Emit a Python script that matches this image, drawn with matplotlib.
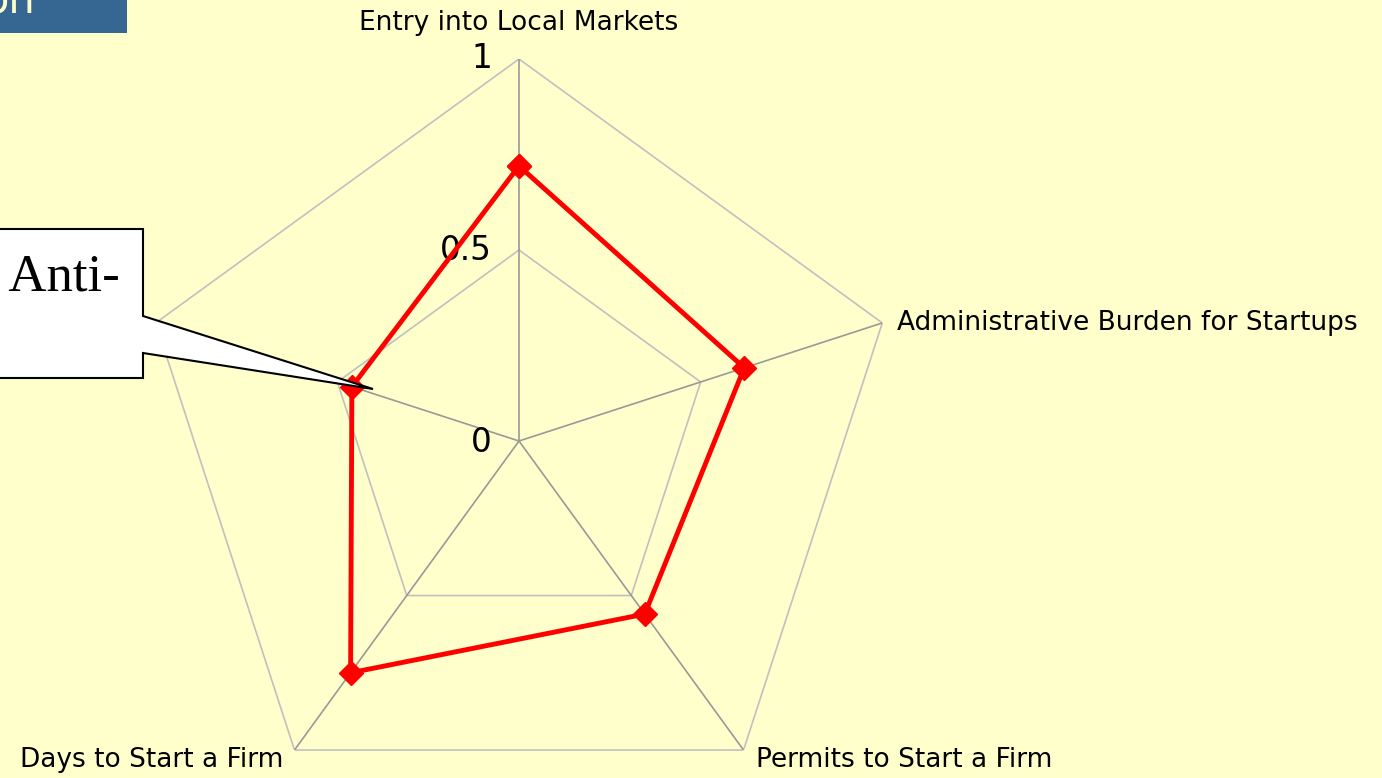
import numpy as np
import matplotlib; matplotlib.use("Agg")
import matplotlib.pyplot as plt
from matplotlib.patches import Polygon, Rectangle

# radar data (scale 0..1)
categories = ["Entry into Local Markets", "Administrative Burden for Startups",
              "Permits to Start a Firm", "Days to Start a Firm", ""]
values = [0.72, 0.62, 0.56, 0.75, 0.46]
ring_levels = [0.5, 1.0]
tick_labels = ["0", "0.5", "1"]
tick_values = [0.0, 0.5, 1.0]

BG = "#FFFFCC"
W, H = 1382, 778

fig = plt.figure(figsize=(W/100, H/100), dpi=100, facecolor=BG)

# polar axes placed so the centre sits at (519, 441) px with radius 382 px
cx, cy, R = 519, 441, 382
ax = fig.add_axes([(cx-R)/W, (H-cy-R)/H, 2*R/W, 2*R/H], projection="polar")
ax.set_theta_offset(np.pi/2); ax.set_theta_direction(-1)
ax.set_ylim(0, 1)
ax.set_facecolor("none")
ax.axis("off")

n = len(categories)
theta = np.arange(n) * 2*np.pi/n
tc = np.append(theta, theta[0])

for lev in ring_levels:
    ax.plot(tc, [lev]*(n+1), color="#C0C0C0", lw=1.2, zorder=1)
for t in theta:
    ax.plot([t, t], [0, 1], color="#999999", lw=1.2, zorder=2)

for v, lab in zip(tick_values, tick_labels):
    ax.annotate(lab, xy=(0, v), xytext=(-27, -2 if v == 0 else 0), textcoords="offset pixels",
                ha="right", va="center", fontsize=23.5, color="black", zorder=3)

vc = values + values[:1]
ax.plot(tc, vc, color="#FF0000", lw=3.5, marker="D", ms=12.5, mec="#FF0000", zorder=5, clip_on=False)

# category labels around the outer ring
offsets = [((0, 36), "center"), ((15, 0), "left"), ((12, -10), "left"), ((-11, -10), "right"), ((-15, 2), "right")]
for t, lab, (off, ha) in zip(theta, categories, offsets):
    if lab:
        ax.annotate(lab, xy=(t, 1), xytext=off, textcoords="offset pixels",
                    ha=ha, va="center", fontsize=19, color="black", annotation_clip=False)

# overlay in pixel coords for the slide furniture (callout + title strip)
ov = fig.add_axes([0, 0, 1, 1], zorder=10)
ov.set_xlim(0, W); ov.set_ylim(H, 0); ov.axis("off"); ov.patch.set_alpha(0)
ov.add_patch(Rectangle((-5, -5), 132, 38, facecolor="#366792", edgecolor="none"))
ov.text(36, 13, "on", ha="right", va="baseline", fontsize=30, color="#FFFFCC")
callout = [(-5, 229), (143, 229), (143, 316), (373, 389), (143, 353), (143, 378), (-5, 378)]
ov.add_patch(Polygon(callout, closed=True, facecolor="white", edgecolor="black", lw=1.5))
ov.text(-46, 290, "of Anti-", ha="left", va="baseline", fontsize=38,
        family="Liberation Serif", color="black")

fig.savefig("out.png", dpi=100, facecolor=BG)
